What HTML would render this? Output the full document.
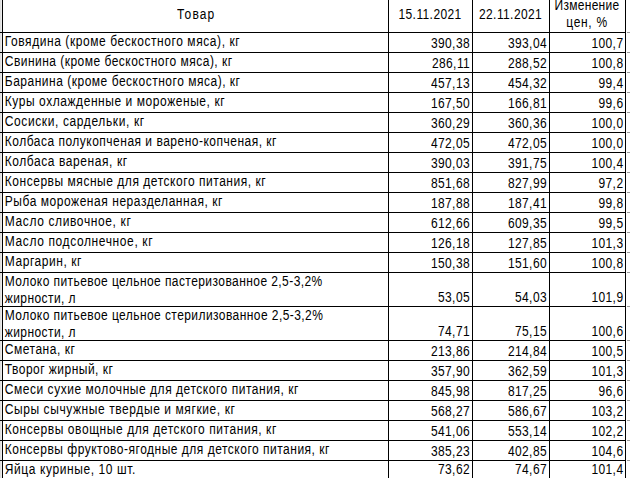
<!DOCTYPE html><html><head><meta charset="utf-8"><style>
html,body{margin:0;padding:0;background:#fff;}
body{width:630px;height:478px;overflow:hidden;position:relative;font-family:"Liberation Sans",sans-serif;font-size:12px;color:#000;}
.h{position:absolute;height:1px;background:#000;}
.v{position:absolute;width:1px;background:#000;top:0;height:478px;}
.g{position:absolute;height:1px;background:#9c9c9c;left:627px;width:3px;}
.t{position:absolute;white-space:nowrap;line-height:0;height:0;transform:scaleY(1.164);transform-origin:0 4.158px;}
.t span{display:inline-block;line-height:0;}
.l{text-align:left;}.r{text-align:right;}.c{text-align:center;}
</style></head><body>
<div style="position:absolute;left:0;top:0;width:1px;height:478px;background:#dedede"></div>
<div style="position:absolute;left:1px;top:0;width:1px;height:478px;background:#ececec"></div>
<div class="v" style="left:2px"></div>
<div class="v" style="left:388px"></div>
<div class="v" style="left:472px"></div>
<div class="v" style="left:549px"></div>
<div class="v" style="left:625px"></div>
<div class="h" style="left:0;width:626px;top:32px"></div>
<div class="g" style="top:32px"></div>
<div class="h" style="left:0;width:626px;top:52px"></div>
<div class="g" style="top:52px"></div>
<div class="h" style="left:0;width:626px;top:72px"></div>
<div class="g" style="top:72px"></div>
<div class="h" style="left:0;width:626px;top:92px"></div>
<div class="g" style="top:92px"></div>
<div class="h" style="left:0;width:626px;top:112px"></div>
<div class="g" style="top:112px"></div>
<div class="h" style="left:0;width:626px;top:132px"></div>
<div class="g" style="top:132px"></div>
<div class="h" style="left:0;width:626px;top:152px"></div>
<div class="g" style="top:152px"></div>
<div class="h" style="left:0;width:626px;top:172px"></div>
<div class="g" style="top:172px"></div>
<div class="h" style="left:0;width:626px;top:192px"></div>
<div class="g" style="top:192px"></div>
<div class="h" style="left:0;width:626px;top:212px"></div>
<div class="g" style="top:212px"></div>
<div class="h" style="left:0;width:626px;top:232px"></div>
<div class="g" style="top:232px"></div>
<div class="h" style="left:0;width:626px;top:252px"></div>
<div class="g" style="top:252px"></div>
<div class="h" style="left:0;width:626px;top:272px"></div>
<div class="g" style="top:272px"></div>
<div class="h" style="left:0;width:626px;top:306px"></div>
<div class="g" style="top:306px"></div>
<div class="h" style="left:0;width:626px;top:340px"></div>
<div class="g" style="top:340px"></div>
<div class="h" style="left:0;width:626px;top:360px"></div>
<div class="g" style="top:360px"></div>
<div class="h" style="left:0;width:626px;top:380px"></div>
<div class="g" style="top:380px"></div>
<div class="h" style="left:0;width:626px;top:400px"></div>
<div class="g" style="top:400px"></div>
<div class="h" style="left:0;width:626px;top:420px"></div>
<div class="g" style="top:420px"></div>
<div class="h" style="left:0;width:626px;top:440px"></div>
<div class="g" style="top:440px"></div>
<div class="h" style="left:0;width:626px;top:460px"></div>
<div class="g" style="top:460px"></div>
<div class="t c" style="left:3.2px;width:386.0px;top:14.84px"><span style="letter-spacing:1.100px">Товар</span></div>
<div class="t c" style="left:388px;width:84px;top:14.84px"><span style="letter-spacing:0.328px">15<span style="letter-spacing:0.664px">.</span>11<span style="letter-spacing:0.664px">.</span>2021</span></div>
<div class="t c" style="left:472px;width:77px;top:14.84px"><span style="letter-spacing:0.328px">22<span style="letter-spacing:0.664px">.</span>11<span style="letter-spacing:0.664px">.</span>2021</span></div>
<div class="t c" style="left:549px;width:76px;top:5.84px"><span style="letter-spacing:0.300px">Изменение</span></div>
<div class="t c" style="left:549px;width:76px;top:22.84px"><span style="letter-spacing:0.700px">цен, %</span></div>
<div class="t l" style="left:4.75px;width:383.25px;top:41.84px"><span style="letter-spacing:0.569px">Говядина (кроме бескостного мяса), кг</span></div>
<div class="t r" style="left:388px;width:82.05000000000001px;top:43.84px"><span style="letter-spacing:0.328px">390<span style="letter-spacing:0.664px">,</span>38</span></div>
<div class="t r" style="left:472px;width:75.04999999999995px;top:43.84px"><span style="letter-spacing:0.328px">393<span style="letter-spacing:0.664px">,</span>04</span></div>
<div class="t r" style="left:549px;width:74.54999999999995px;top:43.84px"><span style="letter-spacing:0.328px">100<span style="letter-spacing:0.664px">,</span>7</span></div>
<div class="t l" style="left:4.75px;width:383.25px;top:61.84px"><span style="letter-spacing:0.476px">Свинина (кроме бескостного мяса), кг</span></div>
<div class="t r" style="left:388px;width:82.05000000000001px;top:63.84px"><span style="letter-spacing:0.328px">286<span style="letter-spacing:0.664px">,</span>11</span></div>
<div class="t r" style="left:472px;width:75.04999999999995px;top:63.84px"><span style="letter-spacing:0.328px">288<span style="letter-spacing:0.664px">,</span>52</span></div>
<div class="t r" style="left:549px;width:74.54999999999995px;top:63.84px"><span style="letter-spacing:0.328px">100<span style="letter-spacing:0.664px">,</span>8</span></div>
<div class="t l" style="left:4.75px;width:383.25px;top:81.84px"><span style="letter-spacing:0.511px">Баранина (кроме бескостного мяса), кг</span></div>
<div class="t r" style="left:388px;width:82.05000000000001px;top:83.84px"><span style="letter-spacing:0.328px">457<span style="letter-spacing:0.664px">,</span>13</span></div>
<div class="t r" style="left:472px;width:75.04999999999995px;top:83.84px"><span style="letter-spacing:0.328px">454<span style="letter-spacing:0.664px">,</span>32</span></div>
<div class="t r" style="left:549px;width:74.54999999999995px;top:83.84px"><span style="letter-spacing:0.328px">99<span style="letter-spacing:0.664px">,</span>4</span></div>
<div class="t l" style="left:4.75px;width:383.25px;top:101.84px"><span style="letter-spacing:0.563px">Куры охлажденные и мороженые, кг</span></div>
<div class="t r" style="left:388px;width:82.05000000000001px;top:103.84px"><span style="letter-spacing:0.328px">167<span style="letter-spacing:0.664px">,</span>50</span></div>
<div class="t r" style="left:472px;width:75.04999999999995px;top:103.84px"><span style="letter-spacing:0.328px">166<span style="letter-spacing:0.664px">,</span>81</span></div>
<div class="t r" style="left:549px;width:74.54999999999995px;top:103.84px"><span style="letter-spacing:0.328px">99<span style="letter-spacing:0.664px">,</span>6</span></div>
<div class="t l" style="left:4.75px;width:383.25px;top:121.84px"><span style="letter-spacing:0.612px">Сосиски, сардельки, кг</span></div>
<div class="t r" style="left:388px;width:82.05000000000001px;top:123.84px"><span style="letter-spacing:0.328px">360<span style="letter-spacing:0.664px">,</span>29</span></div>
<div class="t r" style="left:472px;width:75.04999999999995px;top:123.84px"><span style="letter-spacing:0.328px">360<span style="letter-spacing:0.664px">,</span>36</span></div>
<div class="t r" style="left:549px;width:74.54999999999995px;top:123.84px"><span style="letter-spacing:0.328px">100<span style="letter-spacing:0.664px">,</span>0</span></div>
<div class="t l" style="left:4.75px;width:383.25px;top:141.84px"><span style="letter-spacing:0.496px">Колбаса полукопченая и варено-копченая, кг</span></div>
<div class="t r" style="left:388px;width:82.05000000000001px;top:143.84px"><span style="letter-spacing:0.328px">472<span style="letter-spacing:0.664px">,</span>05</span></div>
<div class="t r" style="left:472px;width:75.04999999999995px;top:143.84px"><span style="letter-spacing:0.328px">472<span style="letter-spacing:0.664px">,</span>05</span></div>
<div class="t r" style="left:549px;width:74.54999999999995px;top:143.84px"><span style="letter-spacing:0.328px">100<span style="letter-spacing:0.664px">,</span>0</span></div>
<div class="t l" style="left:4.75px;width:383.25px;top:161.84px"><span style="letter-spacing:0.572px">Колбаса вареная, кг</span></div>
<div class="t r" style="left:388px;width:82.05000000000001px;top:163.84px"><span style="letter-spacing:0.328px">390<span style="letter-spacing:0.664px">,</span>03</span></div>
<div class="t r" style="left:472px;width:75.04999999999995px;top:163.84px"><span style="letter-spacing:0.328px">391<span style="letter-spacing:0.664px">,</span>75</span></div>
<div class="t r" style="left:549px;width:74.54999999999995px;top:163.84px"><span style="letter-spacing:0.328px">100<span style="letter-spacing:0.664px">,</span>4</span></div>
<div class="t l" style="left:4.75px;width:383.25px;top:181.84px"><span style="letter-spacing:0.537px">Консервы мясные для детского питания, кг</span></div>
<div class="t r" style="left:388px;width:82.05000000000001px;top:183.84px"><span style="letter-spacing:0.328px">851<span style="letter-spacing:0.664px">,</span>68</span></div>
<div class="t r" style="left:472px;width:75.04999999999995px;top:183.84px"><span style="letter-spacing:0.328px">827<span style="letter-spacing:0.664px">,</span>99</span></div>
<div class="t r" style="left:549px;width:74.54999999999995px;top:183.84px"><span style="letter-spacing:0.328px">97<span style="letter-spacing:0.664px">,</span>2</span></div>
<div class="t l" style="left:4.75px;width:383.25px;top:201.84px"><span style="letter-spacing:0.550px">Рыба мороженая неразделанная, кг</span></div>
<div class="t r" style="left:388px;width:82.05000000000001px;top:203.84px"><span style="letter-spacing:0.328px">187<span style="letter-spacing:0.664px">,</span>88</span></div>
<div class="t r" style="left:472px;width:75.04999999999995px;top:203.84px"><span style="letter-spacing:0.328px">187<span style="letter-spacing:0.664px">,</span>41</span></div>
<div class="t r" style="left:549px;width:74.54999999999995px;top:203.84px"><span style="letter-spacing:0.328px">99<span style="letter-spacing:0.664px">,</span>8</span></div>
<div class="t l" style="left:4.75px;width:383.25px;top:221.84px"><span style="letter-spacing:0.622px">Масло сливочное, кг</span></div>
<div class="t r" style="left:388px;width:82.05000000000001px;top:223.84px"><span style="letter-spacing:0.328px">612<span style="letter-spacing:0.664px">,</span>66</span></div>
<div class="t r" style="left:472px;width:75.04999999999995px;top:223.84px"><span style="letter-spacing:0.328px">609<span style="letter-spacing:0.664px">,</span>35</span></div>
<div class="t r" style="left:549px;width:74.54999999999995px;top:223.84px"><span style="letter-spacing:0.328px">99<span style="letter-spacing:0.664px">,</span>5</span></div>
<div class="t l" style="left:4.75px;width:383.25px;top:241.84px"><span style="letter-spacing:0.617px">Масло подсолнечное, кг</span></div>
<div class="t r" style="left:388px;width:82.05000000000001px;top:243.84px"><span style="letter-spacing:0.328px">126<span style="letter-spacing:0.664px">,</span>18</span></div>
<div class="t r" style="left:472px;width:75.04999999999995px;top:243.84px"><span style="letter-spacing:0.328px">127<span style="letter-spacing:0.664px">,</span>85</span></div>
<div class="t r" style="left:549px;width:74.54999999999995px;top:243.84px"><span style="letter-spacing:0.328px">101<span style="letter-spacing:0.664px">,</span>3</span></div>
<div class="t l" style="left:4.75px;width:383.25px;top:261.84px"><span style="letter-spacing:0.550px">Маргарин, кг</span></div>
<div class="t r" style="left:388px;width:82.05000000000001px;top:263.84px"><span style="letter-spacing:0.328px">150<span style="letter-spacing:0.664px">,</span>38</span></div>
<div class="t r" style="left:472px;width:75.04999999999995px;top:263.84px"><span style="letter-spacing:0.328px">151<span style="letter-spacing:0.664px">,</span>60</span></div>
<div class="t r" style="left:549px;width:74.54999999999995px;top:263.84px"><span style="letter-spacing:0.328px">100<span style="letter-spacing:0.664px">,</span>8</span></div>
<div class="t l" style="left:4.75px;width:383.25px;top:281.84px"><span style="letter-spacing:0.429px">Молоко питьевое цельное пастеризованное 2,5-3,2%</span></div>
<div class="t l" style="left:4.75px;width:383.25px;top:298.84px"><span style="letter-spacing:0.420px">жирности, л</span></div>
<div class="t r" style="left:388px;width:82.05000000000001px;top:297.84px"><span style="letter-spacing:0.328px">53<span style="letter-spacing:0.664px">,</span>05</span></div>
<div class="t r" style="left:472px;width:75.04999999999995px;top:297.84px"><span style="letter-spacing:0.328px">54<span style="letter-spacing:0.664px">,</span>03</span></div>
<div class="t r" style="left:549px;width:74.54999999999995px;top:297.84px"><span style="letter-spacing:0.328px">101<span style="letter-spacing:0.664px">,</span>9</span></div>
<div class="t l" style="left:4.75px;width:383.25px;top:315.84px"><span style="letter-spacing:0.429px">Молоко питьевое цельное стерилизованное 2,5-3,2%</span></div>
<div class="t l" style="left:4.75px;width:383.25px;top:332.84px"><span style="letter-spacing:0.420px">жирности, л</span></div>
<div class="t r" style="left:388px;width:82.05000000000001px;top:331.84px"><span style="letter-spacing:0.328px">74<span style="letter-spacing:0.664px">,</span>71</span></div>
<div class="t r" style="left:472px;width:75.04999999999995px;top:331.84px"><span style="letter-spacing:0.328px">75<span style="letter-spacing:0.664px">,</span>15</span></div>
<div class="t r" style="left:549px;width:74.54999999999995px;top:331.84px"><span style="letter-spacing:0.328px">100<span style="letter-spacing:0.664px">,</span>6</span></div>
<div class="t l" style="left:4.75px;width:383.25px;top:349.84px"><span style="letter-spacing:0.520px">Сметана, кг</span></div>
<div class="t r" style="left:388px;width:82.05000000000001px;top:351.84px"><span style="letter-spacing:0.328px">213<span style="letter-spacing:0.664px">,</span>86</span></div>
<div class="t r" style="left:472px;width:75.04999999999995px;top:351.84px"><span style="letter-spacing:0.328px">214<span style="letter-spacing:0.664px">,</span>84</span></div>
<div class="t r" style="left:549px;width:74.54999999999995px;top:351.84px"><span style="letter-spacing:0.328px">100<span style="letter-spacing:0.664px">,</span>5</span></div>
<div class="t l" style="left:4.75px;width:383.25px;top:369.84px"><span style="letter-spacing:0.475px">Творог жирный, кг</span></div>
<div class="t r" style="left:388px;width:82.05000000000001px;top:371.84px"><span style="letter-spacing:0.328px">357<span style="letter-spacing:0.664px">,</span>90</span></div>
<div class="t r" style="left:472px;width:75.04999999999995px;top:371.84px"><span style="letter-spacing:0.328px">362<span style="letter-spacing:0.664px">,</span>59</span></div>
<div class="t r" style="left:549px;width:74.54999999999995px;top:371.84px"><span style="letter-spacing:0.328px">101<span style="letter-spacing:0.664px">,</span>3</span></div>
<div class="t l" style="left:4.75px;width:383.25px;top:389.84px"><span style="letter-spacing:0.536px">Смеси сухие молочные для детского питания, кг</span></div>
<div class="t r" style="left:388px;width:82.05000000000001px;top:391.84px"><span style="letter-spacing:0.328px">845<span style="letter-spacing:0.664px">,</span>98</span></div>
<div class="t r" style="left:472px;width:75.04999999999995px;top:391.84px"><span style="letter-spacing:0.328px">817<span style="letter-spacing:0.664px">,</span>25</span></div>
<div class="t r" style="left:549px;width:74.54999999999995px;top:391.84px"><span style="letter-spacing:0.328px">96<span style="letter-spacing:0.664px">,</span>6</span></div>
<div class="t l" style="left:4.75px;width:383.25px;top:409.84px"><span style="letter-spacing:0.586px">Сыры сычужные твердые и мягкие, кг</span></div>
<div class="t r" style="left:388px;width:82.05000000000001px;top:411.84px"><span style="letter-spacing:0.328px">568<span style="letter-spacing:0.664px">,</span>27</span></div>
<div class="t r" style="left:472px;width:75.04999999999995px;top:411.84px"><span style="letter-spacing:0.328px">586<span style="letter-spacing:0.664px">,</span>67</span></div>
<div class="t r" style="left:549px;width:74.54999999999995px;top:411.84px"><span style="letter-spacing:0.328px">103<span style="letter-spacing:0.664px">,</span>2</span></div>
<div class="t l" style="left:4.75px;width:383.25px;top:429.84px"><span style="letter-spacing:0.570px">Консервы овощные для детского питания, кг</span></div>
<div class="t r" style="left:388px;width:82.05000000000001px;top:431.84px"><span style="letter-spacing:0.328px">541<span style="letter-spacing:0.664px">,</span>06</span></div>
<div class="t r" style="left:472px;width:75.04999999999995px;top:431.84px"><span style="letter-spacing:0.328px">553<span style="letter-spacing:0.664px">,</span>14</span></div>
<div class="t r" style="left:549px;width:74.54999999999995px;top:431.84px"><span style="letter-spacing:0.328px">102<span style="letter-spacing:0.664px">,</span>2</span></div>
<div class="t l" style="left:4.75px;width:383.25px;top:449.84px"><span style="letter-spacing:0.503px">Консервы фруктово-ягодные для детского питания, кг</span></div>
<div class="t r" style="left:388px;width:82.05000000000001px;top:451.84px"><span style="letter-spacing:0.328px">385<span style="letter-spacing:0.664px">,</span>23</span></div>
<div class="t r" style="left:472px;width:75.04999999999995px;top:451.84px"><span style="letter-spacing:0.328px">402<span style="letter-spacing:0.664px">,</span>85</span></div>
<div class="t r" style="left:549px;width:74.54999999999995px;top:451.84px"><span style="letter-spacing:0.328px">104<span style="letter-spacing:0.664px">,</span>6</span></div>
<div class="t l" style="left:4.75px;width:383.25px;top:469.84px"><span style="letter-spacing:0.597px">Яйца куриные, 10 шт.</span></div>
<div class="t r" style="left:388px;width:82.05000000000001px;top:469.84px"><span style="letter-spacing:0.328px">73<span style="letter-spacing:0.664px">,</span>62</span></div>
<div class="t r" style="left:472px;width:75.04999999999995px;top:469.84px"><span style="letter-spacing:0.328px">74<span style="letter-spacing:0.664px">,</span>67</span></div>
<div class="t r" style="left:549px;width:74.54999999999995px;top:469.84px"><span style="letter-spacing:0.328px">101<span style="letter-spacing:0.664px">,</span>4</span></div>
</body></html>
